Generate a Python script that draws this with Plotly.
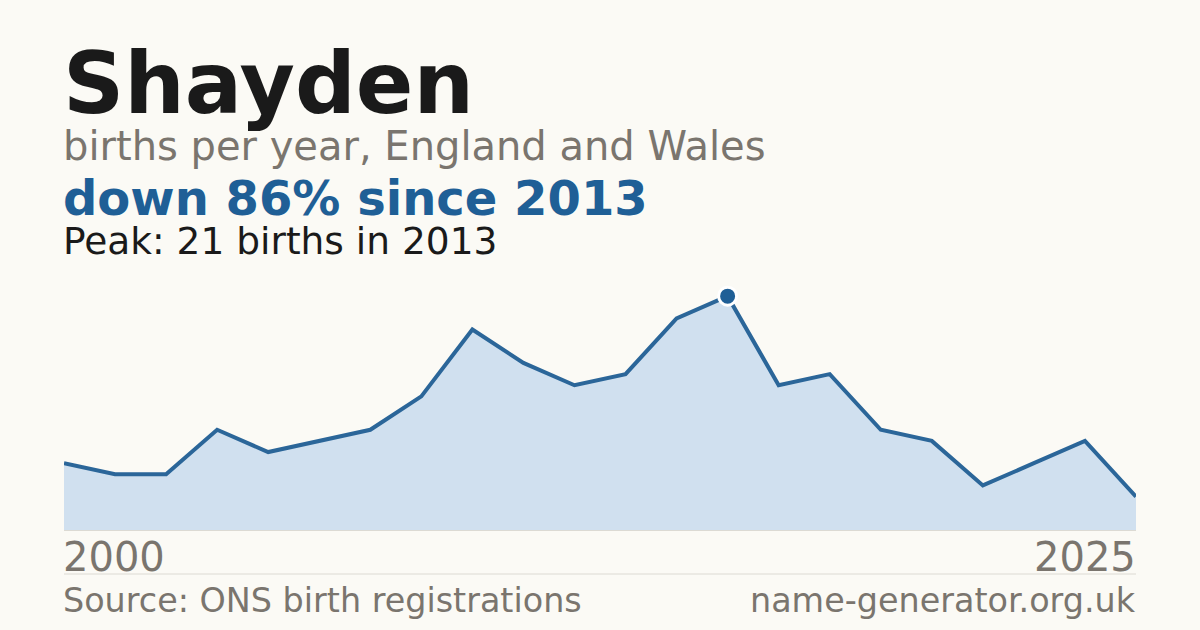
import plotly.graph_objects as go

# data (years with too few births are not listed)
years = ["2000", "2001", "2002", "2003", "2004", "2005", "2006", "2007", "2008",
         "2009", "2010", "2011", "2012", "2013", "2014", "2015", "2016", "2017",
         "2019", "2021", "2023", "2025"]
births = [6, 5, 5, 9, 7, 8, 9, 12, 18, 15, 13, 14, 19, 21, 13, 14, 9, 8, 4, 6, 8, 3]

name = "Shayden"
subtitle = "births per year, England and Wales"
source = "Source: ONS birth registrations"
site = "name-generator.org.uk"

peak_i = births.index(max(births))
peak_year = years[peak_i]
drop = round((1 - births[-1] / births[peak_i]) * 100)

BG = "#fbfaf5"
BLUE = "#1f5f96"
GREY = "#7a756e"
FONT = "DejaVu Sans"

W, H = 1200, 630
TOP, BOTTOM = 285, 530   # plot area in pixels
PH = BOTTOM - TOP


def py(pix):
    # pixel row -> paper y
    return (BOTTOM - pix) / PH


fig = go.Figure()
fig.add_trace(go.Scatter(
    x=years, y=births, mode="lines",
    line=dict(color="#2b6699", width=4),
    fill="tozeroy", fillcolor="#d0e0ef",
    hoverinfo="skip",
))
fig.add_trace(go.Scatter(
    x=[peak_year], y=[births[peak_i]], mode="markers",
    marker=dict(size=18, color=BLUE, line=dict(color="white", width=3)),
    cliponaxis=False, hoverinfo="skip",
))


def note(text, x, xanchor, ypix, size, color, bold=False):
    if bold:
        text = "<b>" + text + "</b>"
    fig.add_annotation(text=text, xref="paper", yref="paper", x=x, y=py(ypix),
                       xanchor=xanchor, yanchor="middle", showarrow=False,
                       xshift=-3 if xanchor == "left" else 2,
                       font=dict(family=FONT, size=size, color=color))


note(name, 0, "left", 113 - 0.35 * 85, 85, "#1a1a1a", bold=True)
note(subtitle, 0, "left", 160 - 0.35 * 40, 40, GREY)
note(f"down {drop}% since {peak_year}", 0, "left", 214.5 - 0.35 * 48, 48, BLUE, bold=True)
note(f"Peak: {births[peak_i]} births in {peak_year}", 0, "left", 254 - 0.35 * 37.5, 37.5, "#1a1a1a")
note(years[0], 0, "left", 571 - 0.35 * 40, 40, GREY)
note(years[-1], 1, "right", 571 - 0.35 * 40, 40, GREY)
note(source, 0, "left", 612 - 0.35 * 33.4, 33.4, GREY)
note(site, 1, "right", 612 - 0.35 * 33.4, 33.4, GREY)

fig.add_shape(type="line", xref="paper", yref="paper", x0=0, x1=1,
              y0=py(574), y1=py(574), line=dict(color="#dcdad3", width=1))

fig.update_layout(
    width=W, height=H,
    margin=dict(l=64, r=64, t=TOP, b=H - BOTTOM),
    paper_bgcolor=BG, plot_bgcolor=BG,
    showlegend=False,
    xaxis=dict(type="category", range=[0, len(years) - 1], showgrid=False,
               showticklabels=False, zeroline=False,
               showline=True, linecolor="#dcdad3", linewidth=1),
    yaxis=dict(range=[0, 22], showgrid=False, showticklabels=False,
               zeroline=False, showline=False),
)

# page body has a default 8px margin; drop it so the figure sits at 0,0
fig.write_html("out.html", config={"displayModeBar": False},
               post_script="document.body.style.margin='0';")
